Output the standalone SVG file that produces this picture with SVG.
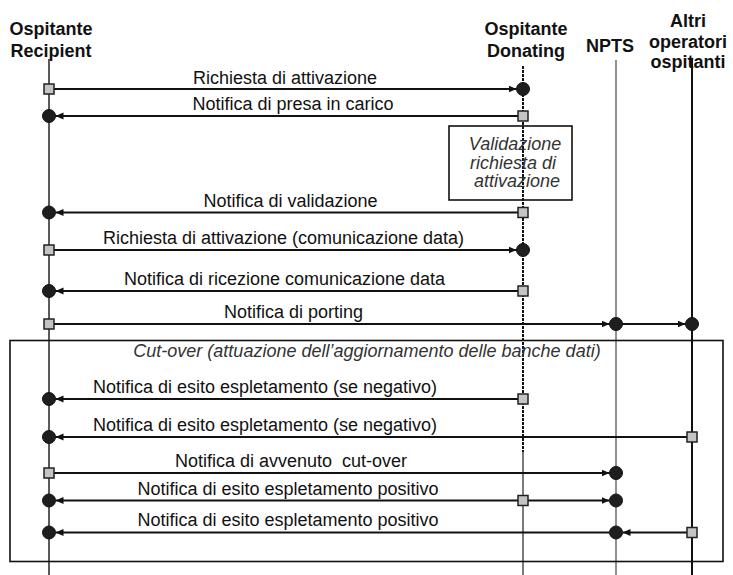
<svg xmlns="http://www.w3.org/2000/svg" width="733" height="575" viewBox="0 0 733 575">
<style>
.hdr{font-family:"Liberation Sans",Arial,sans-serif;font-weight:bold;font-size:18px;fill:#111;text-anchor:middle}
.lbl{font-family:"Liberation Sans",Arial,sans-serif;font-size:18px;fill:#111;text-anchor:middle;white-space:pre}
.it{font-family:"Liberation Sans",Arial,sans-serif;font-style:italic;font-size:18px;fill:#333;text-anchor:middle}
.msg{stroke:#111;stroke-width:2;fill:none}
.sq{fill:#c4c4c4;stroke:#222;stroke-width:1.5}
.ci{fill:#1e1e1e;stroke:#111;stroke-width:1}
.box{fill:none;stroke:#111;stroke-width:1.6}
</style>
<defs>
<marker id="ah" markerWidth="9" markerHeight="8" refX="8" refY="3.5" orient="auto" markerUnits="userSpaceOnUse">
<path d="M0,0 L8,3.5 L0,7 z" fill="#111"/>
</marker>
</defs>
<rect width="733" height="575" fill="#fff"/>

<g id="recipient">
<text class="hdr" x="51" y="35">Ospitante</text>
<text class="hdr" x="51" y="57">Recipient</text>
<line x1="49" y1="59" x2="49" y2="575" stroke="#333" stroke-width="1.6"/>
</g>
<g id="donating">
<text class="hdr" x="526" y="35">Ospitante</text>
<text class="hdr" x="526" y="57">Donating</text>
<line x1="523" y1="66" x2="523" y2="452" stroke="#111" stroke-width="2" stroke-dasharray="3 1"/>
<line x1="523" y1="452" x2="523" y2="575" stroke="#333" stroke-width="1.3"/>
</g>
<g id="npts">
<text class="hdr" x="610" y="52">NPTS</text>
<line x1="616" y1="60" x2="616" y2="575" stroke="#555" stroke-width="1.3"/>
</g>
<g id="altri">
<text class="hdr" x="688" y="27">Altri</text>
<text class="hdr" x="688" y="48">operatori</text>
<text class="hdr" x="688" y="68">ospitanti</text>
<line x1="692" y1="58" x2="692" y2="575" stroke="#111" stroke-width="2"/>
</g>

<g id="validazione">
<rect class="box" x="449" y="126" width="123" height="74" stroke-width="2"/>
<text class="it" x="515" y="150">Validazione</text>
<text class="it" x="513" y="169">richiesta di</text>
<text class="it" x="517" y="187">attivazione</text>
</g>

<g id="cutover">
<rect class="box" x="10" y="340.5" width="713" height="221"/>
<text class="it" x="367" y="357">Cut-over (attuazione dell’aggiornamento delle banche dati)</text>
</g>

<g id="connectors">
<line class="msg" x1="54" y1="89" x2="516.5" y2="89" marker-end="url(#ah)"/>
<line class="msg" x1="518" y1="116" x2="55.5" y2="116" marker-end="url(#ah)"/>
<line class="msg" x1="518" y1="212.5" x2="55.5" y2="212.5" marker-end="url(#ah)"/>
<line class="msg" x1="54" y1="250" x2="516.5" y2="250" marker-end="url(#ah)"/>
<line class="msg" x1="518" y1="291" x2="55.5" y2="291" marker-end="url(#ah)"/>
<line class="msg" x1="54" y1="324" x2="609.5" y2="324" marker-end="url(#ah)"/>
<line class="msg" x1="622.5" y1="324" x2="685.5" y2="324" marker-end="url(#ah)"/>
<line class="msg" x1="518" y1="399" x2="55.5" y2="399" marker-end="url(#ah)"/>
<line class="msg" x1="687" y1="437" x2="55.5" y2="437" marker-end="url(#ah)"/>
<line class="msg" x1="54" y1="473" x2="609.5" y2="473" marker-end="url(#ah)"/>
<line class="msg" x1="518" y1="500.5" x2="55.5" y2="500.5" stroke-width="1.5" marker-end="url(#ah)"/>
<line class="msg" x1="528" y1="500.5" x2="609.5" y2="500.5" marker-end="url(#ah)"/>
<line class="msg" x1="687" y1="532.5" x2="622.5" y2="532.5" marker-end="url(#ah)"/>
<line class="msg" x1="609.5" y1="532.5" x2="55.5" y2="532.5" marker-end="url(#ah)"/>

<rect class="sq" x="44" y="84" width="10" height="10"/>
<circle class="ci" cx="523" cy="89" r="6.5"/>
<circle class="ci" cx="49" cy="116" r="6.5"/>
<rect class="sq" x="518" y="111" width="10" height="10"/>
<circle class="ci" cx="49" cy="212.5" r="6.5"/>
<rect class="sq" x="518" y="207.5" width="10" height="10"/>
<rect class="sq" x="44" y="245" width="10" height="10"/>
<circle class="ci" cx="523" cy="250" r="6.5"/>
<circle class="ci" cx="49" cy="291" r="6.5"/>
<rect class="sq" x="518" y="286" width="10" height="10"/>
<rect class="sq" x="44" y="319" width="10" height="10"/>
<circle class="ci" cx="616" cy="324" r="6.5"/>
<circle class="ci" cx="692" cy="324" r="6.5"/>
<circle class="ci" cx="49" cy="399" r="6.5"/>
<rect class="sq" x="518" y="394" width="10" height="10"/>
<circle class="ci" cx="49" cy="437" r="6.5"/>
<rect class="sq" x="687" y="432" width="10" height="10"/>
<rect class="sq" x="44" y="468" width="10" height="10"/>
<circle class="ci" cx="616" cy="473" r="6.5"/>
<circle class="ci" cx="49" cy="500.5" r="6.5"/>
<rect class="sq" x="518" y="495.5" width="10" height="10"/>
<circle class="ci" cx="616" cy="500.5" r="6.5"/>
<circle class="ci" cx="49" cy="532.5" r="6.5"/>
<circle class="ci" cx="616" cy="532.5" r="6.5"/>
<rect class="sq" x="687" y="527.5" width="10" height="10"/>

<text class="lbl" x="285" y="84">Richiesta di attivazione</text>
<text class="lbl" x="293" y="110">Notifica di presa in carico</text>
<text class="lbl" x="290.5" y="207">Notifica di validazione</text>
<text class="lbl" x="283.5" y="244">Richiesta di attivazione (comunicazione data)</text>
<text class="lbl" x="284.5" y="285">Notifica di ricezione comunicazione data</text>
<text class="lbl" x="293.5" y="318">Notifica di porting</text>
<text class="lbl" x="265" y="393">Notifica di esito espletamento (se negativo)</text>
<text class="lbl" x="265" y="431">Notifica di esito espletamento (se negativo)</text>
<text class="lbl" x="291" y="467">Notifica di avvenuto  cut-over</text>
<text class="lbl" x="288" y="495">Notifica di esito espletamento positivo</text>
<text class="lbl" x="288" y="526">Notifica di esito espletamento positivo</text>
</g>
</svg>
